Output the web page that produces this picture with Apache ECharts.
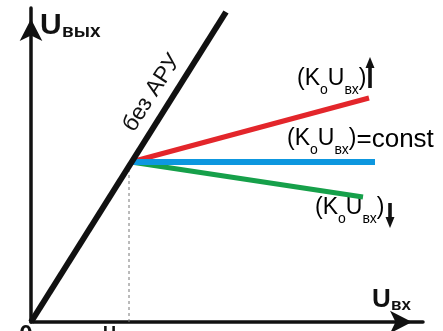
<!DOCTYPE html>
<html><head><meta charset="utf-8">
<script src="https://cdn.jsdelivr.net/npm/echarts@6/dist/echarts.min.js"></script>
<style>html,body{margin:0;padding:0;background:#fff}#c{width:443px;height:331px}</style>
</head><body><div id="c"></div>
<script>
// axis extents (arbitrary input/output voltage units)
const xRange = [0, 392];
const yRange = [0, 314];
// characteristic without AGC (straight line)
const noAgcX = [0, 195];
const noAgcY = [0, 310];
// knee point where AGC starts acting
const kneeX = [100];
const kneeY = [160];
// end points of the three AGC branches
const riseEnd = [338, 224];
const constEnd = [344, 160];
const fallEnd = [332, 125];
// threshold marker (dashed)
const thresholdX = [98];
const thresholdY = [0, 160];

const FF = 'Liberation Sans, Arial, sans-serif';
const chart = echarts.init(document.getElementById('c'), null, {renderer: 'canvas'});

function seg(x0, y0, x1, y1) { return [[x0, y0], [x1, y1]]; }

const axisCommon = {
  type: 'value',
  axisLine: {show: true, onZero: false, symbol: ['none', 'arrow'], symbolSize: [17, 22], symbolOffset: [0, -11],
    lineStyle: {color: '#111', width: 3.5}},
  axisTick: {show: false}, axisLabel: {show: false}, splitLine: {show: false}
};

const labelRich = function () {
  return {
    m: {fontSize: 23, fontFamily: FF, color: '#111', lineHeight: 30, verticalAlign: 'top'},
    c: {fontSize: 26, fontFamily: FF, color: '#111', lineHeight: 30, verticalAlign: 'top'},
    s: {fontSize: 14, fontFamily: FF, color: '#111', lineHeight: 14, verticalAlign: 'bottom'}
  };
};

function arrow(cx, yTop, yBot, up) {
  const hw = 4.5, hh = 11, sw = 3.6;
  const children = [];
  if (up) {
    children.push({type: 'rect', shape: {x: cx - sw / 2, y: yTop + hh - 1, width: sw, height: yBot - yTop - hh + 1}, style: {fill: '#111'}});
    children.push({type: 'polygon', shape: {points: [[cx, yTop], [cx - hw, yTop + hh], [cx + hw, yTop + hh]]}, style: {fill: '#111'}});
  } else {
    children.push({type: 'rect', shape: {x: cx - sw / 2, y: yTop, width: sw, height: yBot - yTop - hh + 1}, style: {fill: '#111'}});
    children.push({type: 'polygon', shape: {points: [[cx, yBot], [cx - hw, yBot - hh], [cx + hw, yBot - hh]]}, style: {fill: '#111'}});
  }
  return {type: 'group', children: children};
}

chart.setOption({
  animation: false,
  backgroundColor: '#fff',
  grid: {left: 31, right: 20, top: 8, bottom: 9},
  xAxis: Object.assign({}, axisCommon, {min: xRange[0], max: xRange[1]}),
  yAxis: Object.assign({}, axisCommon, {min: yRange[0], max: yRange[1]}),
  series: [
    {type: 'line', name: 'threshold', data: [[thresholdX[0], thresholdY[0]], [thresholdX[0], thresholdY[1]]], symbol: 'none',
      lineStyle: {color: '#777', width: 1, type: [3, 3]}, z: 1},
    {type: 'line', name: 'rise', data: seg(kneeX[0], kneeY[0], riseEnd[0], riseEnd[1]), symbol: 'none',
      lineStyle: {color: '#e3262b', width: 5}, z: 2},
    {type: 'line', name: 'fall', data: seg(kneeX[0], kneeY[0], fallEnd[0], fallEnd[1]), symbol: 'none',
      lineStyle: {color: '#16a04a', width: 5}, z: 2},
    {type: 'line', name: 'const', data: seg(kneeX[0], kneeY[0], constEnd[0], constEnd[1]), symbol: 'none',
      lineStyle: {color: '#0d97df', width: 6}, z: 3},
    {type: 'line', name: 'без АРУ', data: seg(noAgcX[0], noAgcY[0], noAgcX[1], noAgcY[1]), symbol: 'none',
      lineStyle: {color: '#111', width: 6}, z: 4}
  ],
  graphic: [
    {type: 'text', x: 40, y: 25.5, style: {text: 'U', font: 'bold 30px ' + FF, fill: '#111', verticalAlign: 'middle'}},
    {type: 'text', x: 62, y: 32, style: {text: 'вых', font: 'bold 19px ' + FF, fill: '#111', verticalAlign: 'middle'}},
    {type: 'text', x: 372, y: 300, style: {text: 'U', font: 'bold 26px ' + FF, fill: '#111', verticalAlign: 'middle'}},
    {type: 'text', x: 391, y: 305, style: {text: 'вх', font: 'bold 17px ' + FF, fill: '#111', verticalAlign: 'middle'}},
    {type: 'text', x: 152, y: 93, rotation: 57 * Math.PI / 180,
      style: {text: 'без АРУ', font: '23px ' + FF, fill: '#111', align: 'center', verticalAlign: 'middle'}},
    {type: 'text', x: 297, y: 67, style: {text: '{m|(K}{s|o}{m|U}{s|вх}{m|)}', rich: labelRich(), verticalAlign: 'top'}},
    {type: 'text', x: 287, y: 127, style: {text: '{m|(K}{s|o}{m|U}{s|вх}{m|)}{c|=const}', rich: labelRich(), verticalAlign: 'top'}},
    {type: 'text', x: 315, y: 196, style: {text: '{m|(K}{s|o}{m|U}{s|вх}{m|)}', rich: labelRich(), verticalAlign: 'top'}},
    arrow(370, 57, 88, true),
    arrow(390, 203, 228, false),
    {type: 'text', x: 26, y: 335.6, style: {text: '0', font: 'bold 24px ' + FF, fill: '#111', align: 'center', verticalAlign: 'middle'}},
    {type: 'text', x: 103, y: 333.7, style: {text: 'U', font: 'bold 18px ' + FF, fill: '#111', verticalAlign: 'middle'}}
  ]
});
</script></body></html>
